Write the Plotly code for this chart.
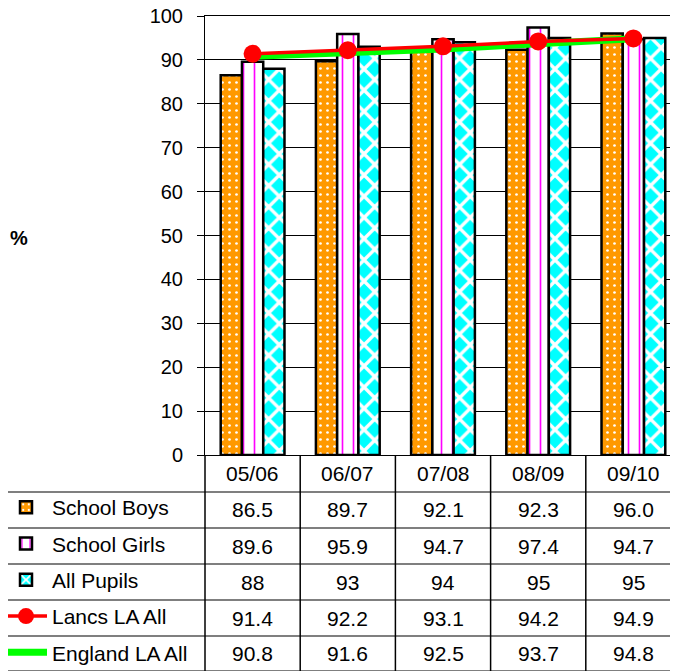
import plotly.graph_objects as go

categories = ["05/06", "06/07", "07/08", "08/09", "09/10"]
school_boys = [86.5, 89.7, 92.1, 92.3, 96.0]
school_girls = [89.6, 95.9, 94.7, 97.4, 94.7]
all_pupils = [88, 93, 94, 95, 95]
lancs_all = [91.4, 92.2, 93.1, 94.2, 94.9]
england_all = [90.8, 91.6, 92.5, 93.7, 94.8]
y_ticks = [0, 10, 20, 30, 40, 50, 60, 70, 80, 90, 100]

W, H = 678, 671
OFF = 8  # page body margin
FONT = "Liberation Sans, Arial, sans-serif"
FS = 21
TICK_FS = 20
# screen-pixel layout positions
PLOT_L, PLOT_R, PLOT_T, PLOT_B = 205, 681, 16, 455
ROW_LINES = [492, 528, 564, 600, 636, 671]

def px(p):
    return (p - OFF) / W

def py(p):
    return 1 - (p - OFF) / H

fig = go.Figure()
bar_line = dict(color="black", width=2.5)
fig.add_trace(go.Bar(
    x=categories, y=school_boys, name="School Boys", legendgroup="a", legendrank=1,
    marker=dict(color="#FF9900", line=bar_line,
                pattern=dict(shape=".", fgcolor="white", bgcolor="#FF9900", size=7, solidity=0.12)),
))
fig.add_trace(go.Bar(
    x=categories, y=school_girls, name="School Girls", legendgroup="b", legendrank=2,
    marker=dict(color="white", line=bar_line,
                pattern=dict(shape="|", fgcolor="#FF00FF", bgcolor="white", size=11, solidity=0.15)),
))
fig.add_trace(go.Bar(
    x=categories, y=all_pupils, name="All Pupils", legendgroup="c", legendrank=3,
    marker=dict(color="#00FFFF", line=bar_line,
                pattern=dict(shape="x", fgcolor="white", bgcolor="#00FFFF", size=15, solidity=0.4)),
))
fig.add_trace(go.Scatter(
    x=categories, y=england_all, name="England LA All", legendgroup="e", legendrank=5,
    mode="lines", line=dict(color="#00FF00", width=7),
))
fig.add_trace(go.Scatter(
    x=categories, y=lancs_all, name="Lancs LA All", legendgroup="d", legendrank=4,
    mode="lines+markers", line=dict(color="#FF0000", width=3.5),
    marker=dict(color="#FF0000", size=18),
))

fig.update_layout(
    template="none",
    width=W, height=H,
    margin=dict(l=0, r=0, t=0, b=0, pad=0, autoexpand=False),
    paper_bgcolor="white", plot_bgcolor="white",
    font=dict(family=FONT, size=FS, color="black"),
    barmode="group", bargap=0.33, bargroupgap=0,
    showlegend=True,
    legend=dict(x=-OFF / W, xanchor="left", y=py(673), yanchor="bottom",
                tracegroupgap=6, bgcolor="rgba(0,0,0,0)", borderwidth=0,
                itemwidth=42,
                font=dict(family=FONT, size=FS, color="black"),
                itemsizing="trace"),
    xaxis=dict(domain=[px(PLOT_L), px(PLOT_R)], range=[-0.5, 4.5], showticklabels=False,
               ticks="", showgrid=False, showline=True, mirror=True, linecolor="black",
               linewidth=1, zeroline=False, type="category", automargin=False),
    yaxis=dict(domain=[py(PLOT_B), py(PLOT_T)], range=[0, 100], tickvals=y_ticks,
               ticks="outside", ticklen=7, tickcolor="black", tickwidth=1, showline=True,
               linecolor="black", linewidth=1, showgrid=True, gridcolor="black",
               gridwidth=1, zeroline=False, ticklabelstandoff=10, automargin=False,
               ticklabeloverflow="allow",
               tickfont=dict(family=FONT, size=TICK_FS, color="black")),
)

# y-axis label
fig.add_annotation(text="<b>%</b>", x=px(19), y=py(238), xref="paper", yref="paper",
                   xanchor="center", yanchor="middle",
                   showarrow=False, font=dict(size=TICK_FS, family=FONT))

# table lines
for rl in ROW_LINES:
    fig.add_shape(type="line", xref="paper", yref="paper", x0=px(0), x1=1, y0=py(rl), y1=py(rl),
                  line=dict(color="#555555", width=1.5))
for i in range(len(categories)):
    fig.add_shape(type="line", xref="x", yref="paper", x0=i + 0.5, x1=i + 0.5,
                  y0=0, y1=py(PLOT_B), line=dict(color="black", width=1.5))
fig.add_shape(type="line", xref="paper", yref="paper", x0=px(PLOT_L), x1=px(PLOT_L),
              y0=0, y1=py(PLOT_B), line=dict(color="black", width=1.5))

# header & values
header_y = (PLOT_B + ROW_LINES[0]) / 2
rows = [
    [f"{v:.1f}" for v in school_boys],
    [f"{v:.1f}" for v in school_girls],
    [f"{v:g}" for v in all_pupils],
    [f"{v:.1f}" for v in lancs_all],
    [f"{v:.1f}" for v in england_all],
]
for c in categories:
    fig.add_annotation(text=c, x=c, y=py(header_y), xref="x", yref="paper",
                       xanchor="center", yanchor="middle",
                       showarrow=False, font=dict(size=FS, family=FONT))
for r, vals in enumerate(rows):
    yc = (ROW_LINES[r] + ROW_LINES[r + 1]) / 2
    for c, t in zip(categories, vals):
        fig.add_annotation(text=t, x=c, y=py(yc), xref="x", yref="paper",
                           xanchor="center", yanchor="middle",
                           showarrow=False, font=dict(size=FS, family=FONT))

fig.write_html("out.html")
